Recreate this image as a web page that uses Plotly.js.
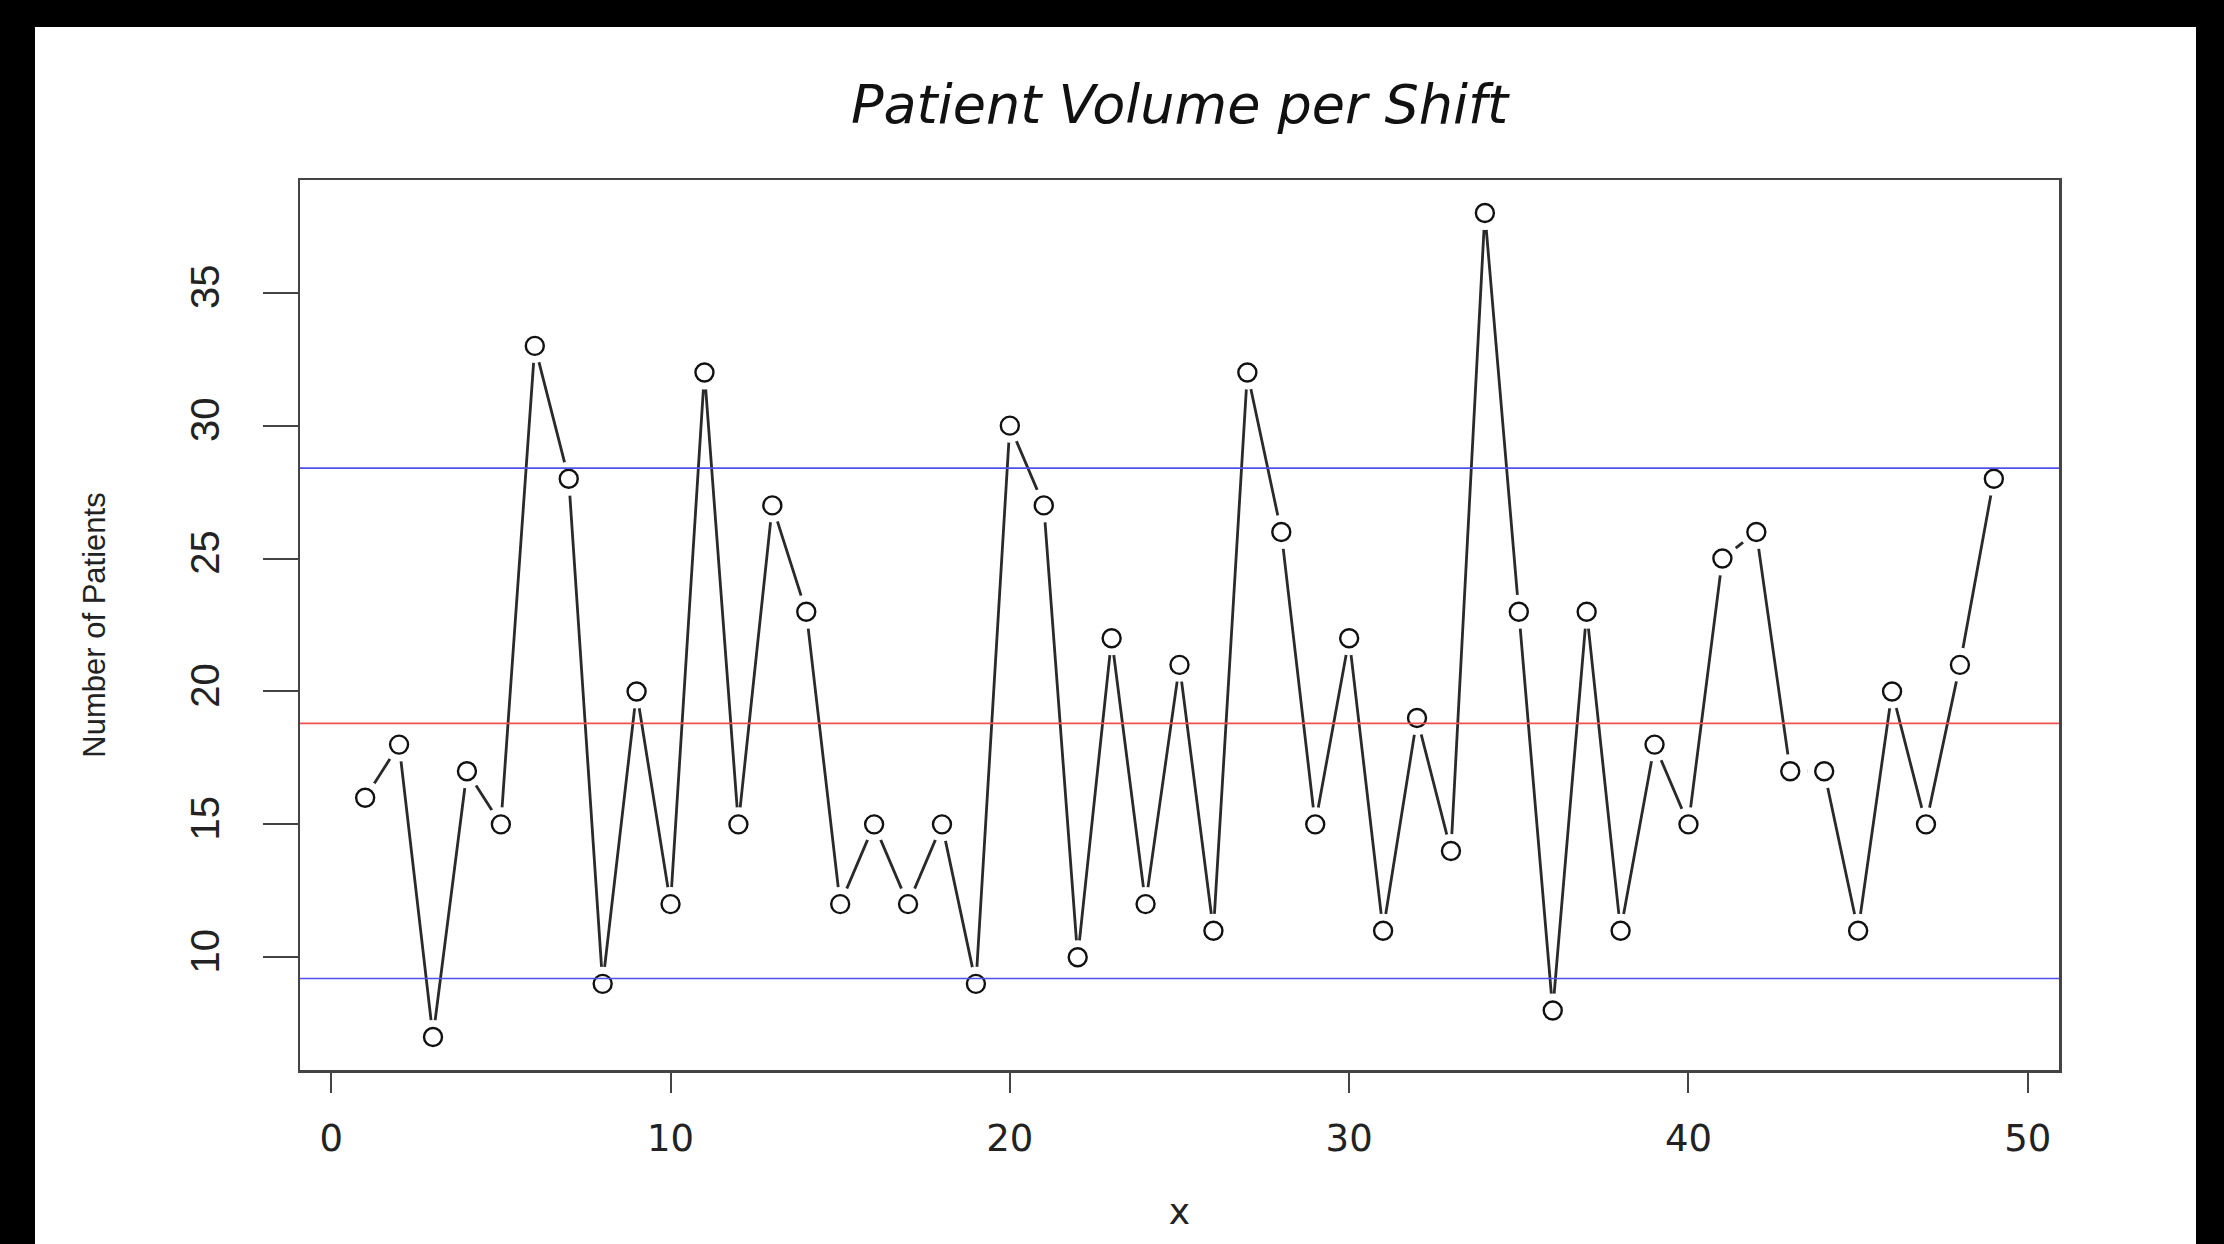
<!DOCTYPE html>
<html>
<head>
<meta charset="utf-8">
<script src="https://cdn.plot.ly/plotly-3.0.1.min.js"></script>
<style>
  html, body { margin: 0; padding: 0; background: #000; width: 2224px; height: 1244px; overflow: hidden; }
  #chart { position: absolute; left: 35px; top: 27px; width: 2161px; height: 1217px; background: #fff; }
</style>
</head>
<body>
<div id="chart"></div>
<script>
// Shift index and patient counts
const shifts = [1,2,3,4,5,6,7,8,9,10,11,12,13,14,15,16,17,18,19,20,21,22,23,24,25,
                26,27,28,29,30,31,32,33,34,35,36,37,38,39,40,41,42,43,44,45,46,47,48,49];
const patients = [16,18,7,17,15,33,28,9,20,12,32,15,27,23,12,15,12,15,9,30,27,10,22,12,21,
                  11,32,26,15,22,11,19,14,38,23,8,23,11,18,15,25,26,17,17,11,20,15,21,28];

// Reference lines
const centerLine = 18.8;
const upperLimit = 28.4;
const lowerLimit = 9.2;

const xTicks = [0, 10, 20, 30, 40, 50];
const yTicks = [10, 15, 20, 25, 30, 35];

const traces = [
  { x: shifts, y: patients, mode: 'lines', type: 'scatter',
    line: { color: '#2a2a2a', width: 2.8 }, hoverinfo: 'skip', showlegend: false },
  // white blobs that open the gaps of the line around each point (R type = "b")
  { x: shifts, y: patients, mode: 'markers', type: 'scatter',
    marker: { symbol: 'circle', size: 34, color: '#fff', line: { width: 0 } },
    hoverinfo: 'skip', showlegend: false },
  { x: shifts, y: patients, mode: 'markers', type: 'scatter',
    marker: { symbol: 'circle-open', size: 18, color: '#111', line: { width: 2.4, color: '#111' } },
    showlegend: false }
];

const hline = (v, c) => ({ type: 'line', xref: 'paper', x0: 0, x1: 1, yref: 'y', y0: v, y1: v,
  line: { color: c, width: 1.6 }, layer: 'above' });

const layout = {
  width: 2161, height: 1217,
  paper_bgcolor: '#fff', plot_bgcolor: '#fff',
  margin: { l: 265, r: 137, t: 153, b: 174 },
  showlegend: false,
  title: { text: 'Patient Volume per Shift', x: 0.5, xanchor: 'center', xref: 'paper',
           y: 0.937, yref: 'container', yanchor: 'middle',
           font: { family: 'DejaVu Sans', size: 54, style: 'italic', color: '#111' } },
  xaxis: {
    range: [-0.92, 50.92], tickvals: xTicks, ticktext: xTicks.map(String),
    showline: true, mirror: true, linecolor: '#444', linewidth: 2.5,
    ticks: 'outside', ticklen: 20, tickwidth: 2, tickcolor: '#444',
    showgrid: false, zeroline: false, ticklabelstandoff: 14,
    tickfont: { family: 'DejaVu Sans', size: 37, color: '#222' },
    title: { text: 'x', standoff: 40, font: { family: 'DejaVu Sans', size: 36, color: '#222' } }
  },
  yaxis: {
    range: [5.76, 39.24], tickvals: yTicks, ticktext: yTicks.map(String),
    showline: true, mirror: true, linecolor: '#444', linewidth: 2.5,
    ticks: 'outside', ticklen: 35, tickwidth: 2, tickcolor: '#444',
    showgrid: false, zeroline: false, tickangle: -90, ticklabelstandoff: 28,
    tickfont: { family: 'Liberation Sans', size: 40, color: '#222' },
    title: { text: 'Number of Patients', standoff: 68, font: { family: 'Liberation Sans', size: 31, color: '#222' } }
  },
  shapes: [
    hline(upperLimit, 'rgb(80,80,235)'),
    hline(centerLine, 'rgb(240,80,80)'),
    hline(lowerLimit, 'rgb(80,80,235)')
  ]
};

Plotly.newPlot('chart', traces, layout, { staticPlot: true, displayModeBar: false });
</script>
</body>
</html>
